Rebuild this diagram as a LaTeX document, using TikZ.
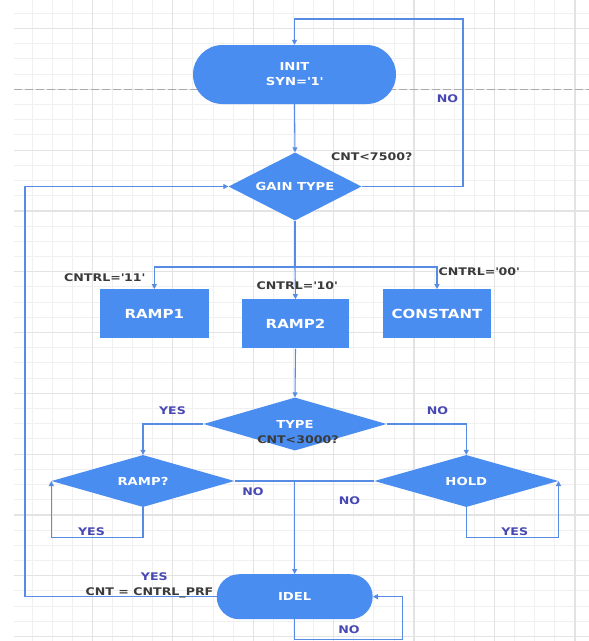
\documentclass[tikz,border=0pt]{standalone}
\usepackage{fontspec}
\setmainfont{DejaVu Sans}[FakeStretch=1.2]
\usetikzlibrary{shapes.geometric,shapes.misc,arrows.meta}
\definecolor{fillblue}{RGB}{74,141,241}
\definecolor{linkblue}{RGB}{88,140,228}
\definecolor{lblpurple}{RGB}{72,72,178}
\definecolor{lbldark}{RGB}{58,58,58}
\definecolor{gridmin}{RGB}{240,240,240}
\definecolor{gridmaj}{RGB}{227,227,227}
\definecolor{dashgray}{RGB}{170,170,170}
\newcommand{\sq}{\textquotesingle}
\begin{document}
\begin{tikzpicture}[x=1pt,y=-1pt,
  term/.style={rounded rectangle, fill=fillblue, text=white, align=center, inner sep=0pt,
    font=\bfseries\fontsize{11}{15}\selectfont},
  proc/.style={rectangle, fill=fillblue, text=white, inner sep=0pt, minimum height=49pt,
    font=\bfseries\fontsize{12.5}{15}\selectfont},
  dec/.style={diamond, aspect=2, fill=fillblue, text=white, inner sep=0pt,
    font=\bfseries\fontsize{11}{13}\selectfont},
  conn/.style={draw=linkblue, line width=1.1pt},
  arr/.style={conn, -{Triangle[length=5pt,width=5pt]}},
  lblp/.style={text=lblpurple, anchor=base, inner sep=0pt, font=\bfseries\fontsize{10.5}{12}\selectfont},
  lbld/.style={text=lbldark, anchor=base, inner sep=0pt, font=\bfseries\fontsize{10.5}{12}\selectfont},
  gmin/.style={draw=gridmin, line width=0.9pt},
  gmaj/.style={draw=gridmaj, line width=1.2pt}]
% background and grid
\fill[white] (0,0) rectangle (589,641);
\useasboundingbox (0,0) rectangle (589,641);
\foreach \k in {0,...,27} {\draw[gmin] ({32+20.11*\k},0) -- ({32+20.11*\k},641);}
\foreach \k in {0,...,41} {\draw[gmin] (14,{13.3+15.2*\k}) -- (589,{13.3+15.2*\k});}
\foreach \k in {3,7,...,27} {\draw[gmaj] ({32+20.11*\k},0) -- ({32+20.11*\k},641);}
\foreach \k in {1,5,...,41} {\draw[gmaj] (14,{13.3+15.2*\k}) -- (589,{13.3+15.2*\k});}
\draw[draw=dashgray, line width=0.9pt, dash pattern=on 8pt off 3pt] (14,89.3) -- (589,89.3);

% shapes
\node[term, minimum width=203pt, minimum height=59pt] (init) at (294.5,74.5) {INIT\\SYN=\sq1\sq};
\node[dec, minimum width=133pt, minimum height=68pt] (gain) at (295,186.5) {GAIN TYPE};
\node[proc, minimum width=108.7pt] (ramp1) at (154.3,313.8) {RAMP1};
\node[proc, minimum width=107pt] (ramp2) at (295.5,323.8) {RAMP2};
\node[proc, minimum width=107.4pt] (const) at (437,313.8) {CONSTANT};
\node[dec, minimum width=183pt, minimum height=53pt] (type) at (295,424) {TYPE};
\node[dec, minimum width=183pt, minimum height=52pt] (rampq) at (143,481) {RAMP?};
\node[dec, minimum width=184pt, minimum height=52pt] (hold) at (466.3,481) {HOLD};
\node[term, minimum width=156pt, minimum height=45pt] (idel) at (294.7,596.7) {IDEL};

% helper coordinates
\coordinate (topr) at (463,19);
\coordinate (split) at (295,267);
\coordinate (mid) at (idel.north |- rampq.east);
\coordinate (leftc) at (25,186.5);
\coordinate (idelr) at (402.3,639.3);

% connectors
\draw[arr] (gain.east) -| (topr) -| (init.north);
\draw[arr] (init.south) -- (gain.north);
\draw[conn] (gain.south) -- (split);
\draw[arr] (split) -- (ramp2.north);
\draw[arr] (split) -| (ramp1.north);
\draw[arr] (split) -| (const.north);
\draw[arr] (ramp2.south) -- (type.north);
\draw[arr] (type.west) -| (rampq.north);
\draw[arr] (type.east) -| (hold.north);
\draw[arr] (rampq.south) -- ++(0,30) -| (rampq.west);
\draw[arr] (hold.south) -- ++(0,30) -| (hold.east);
\draw[conn] (rampq.east) -- (hold.west);
\draw[arr] (mid) -- (idel.north);
\draw[arr] (idel.south) |- (idelr) |- (idel.east);
\draw[arr] (idel.west) -| (leftc) -- (gain.west);

% labels
\node[lblp] (l1) at (447.5,102.3) {NO};
\node[lbld] (l2) at (371.7,160.7) {CNT<7500?};
\node[lbld] (l3) at (104.5,281.7) {CNTRL=\sq11\sq};
\node[lbld] (l4) at (297,289.3) {CNTRL=\sq10\sq};
\node[lbld] (l5) at (479,275) {CNTRL=\sq00\sq};
\node[lblp] (l6) at (172.5,414) {YES};
\node[lblp] (l7) at (437.5,414) {NO};
\node[lbld] (l8) at (298,443.3) {CNT<3000?};
\node[lblp] (l9) at (253,495) {NO};
\node[lblp] (l10) at (349.5,504) {NO};
\node[lblp] (l11) at (91.5,535.7) {YES};
\node[lblp] (l12) at (514.7,535.7) {YES};
\node[lblp] (l13) at (154.3,580) {YES};
\node[lbld] (l14) at (149.5,595) {CNT = CNTRL\_PRF};
\node[lblp] (l15) at (349,633) {NO};
\end{tikzpicture}
\end{document}
